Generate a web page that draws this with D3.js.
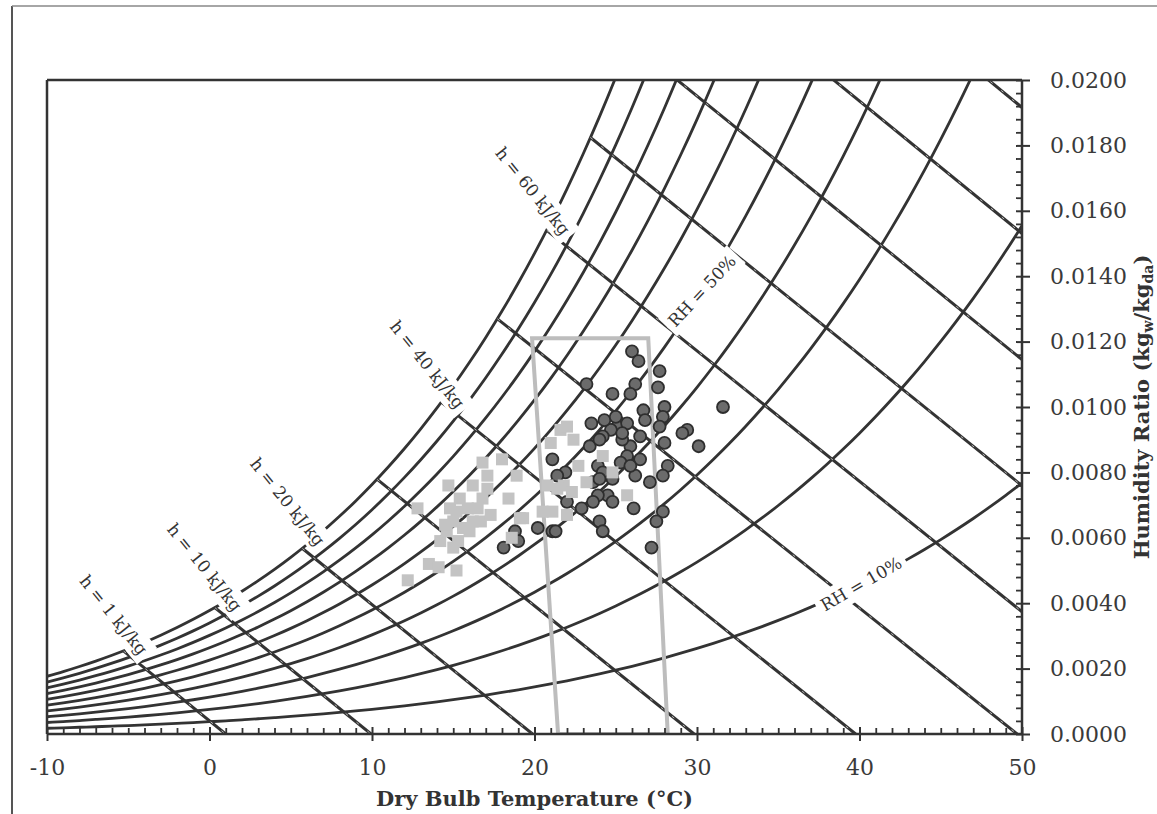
<!DOCTYPE html>
<html>
<head>
<meta charset="utf-8">
<script src="https://cdn.jsdelivr.net/npm/d3@7/dist/d3.min.js"></script>
<style>
  body { margin: 0; background: #fff; }
  svg { display: block; }
</style>
</head>
<body>
<div id="chart"></div>
<script>
// tablas de datos
const satTemps = d3.range(-10, 51); // °C
// presion de saturacion del agua (kPa) para cada grado de satTemps
const satPressure = [0.2865, 0.3100, 0.3351, 0.3619, 0.3906, 0.4215, 0.4545, 0.4898, 0.5275, 0.5679,
  0.6112, 0.6571, 0.7060, 0.7581, 0.8135, 0.8725, 0.9353, 1.0020, 1.0729, 1.1481,
  1.2280, 1.3128, 1.4026, 1.4979, 1.5987, 1.7055, 1.8185, 1.9380, 2.0643, 2.1978,
  2.3388, 2.4877, 2.6448, 2.8104, 2.9851, 3.1692, 3.3631, 3.5673, 3.7822, 4.0083,
  4.2460, 4.4959, 4.7585, 5.0343, 5.3239, 5.6278, 5.9466, 6.2810, 6.6315, 6.9987,
  7.3835, 7.7863, 8.2080, 8.6492, 9.1107, 9.5932, 10.0976, 10.6246, 11.1751, 11.7500, 12.3499];
const rhLevels = [0.1, 0.2, 0.3, 0.4, 0.5, 0.6, 0.7, 0.8, 0.9, 1.0];
const enthalpyLevels = [1, 10, 20, 30, 40, 50, 60, 70, 80, 90, 100]; // kJ/kg

const xTicks = [-10, 0, 10, 20, 30, 40, 50];
const yTicks = [0, 0.002, 0.004, 0.006, 0.008, 0.010, 0.012, 0.014, 0.016, 0.018, 0.020];

// zona de confort (temp, W)
const comfortZone = [[19.85, 0.0121], [27.0, 0.0121], [28.2, 0], [21.45, 0]];

// puntos grises claros (cuadrados)
const squareTemp = [14.7, 16.8, 18.0, 18.9, 18.4, 16.2, 17.1, 12.8, 19.1, 15.2, 15.6, 14.6, 14.2, 15.0, 16.0,
  16.7, 16.8, 17.1, 16.5, 15.9, 13.5, 14.1, 15.2, 12.2, 18.6, 21.6, 22.0, 21.0, 22.4, 20.8,
  22.0, 21.1, 24.2, 22.7, 23.2, 24.8, 21.8, 22.3, 25.7, 19.3, 15.0, 21.4, 14.5, 15.3, 16.2,
  17.3, 15.4, 14.8, 20.5];
const squareW = [0.0076, 0.0083, 0.0084, 0.0079, 0.0072, 0.0076, 0.0079, 0.0069, 0.0066, 0.0068, 0.0063, 0.0062, 0.0059, 0.0057, 0.0062,
  0.0065, 0.0072, 0.0075, 0.0069, 0.0069, 0.0052, 0.0051, 0.0050, 0.0047, 0.0060, 0.0093, 0.0094, 0.0089, 0.0090, 0.0076,
  0.0067, 0.0068, 0.0085, 0.0082, 0.0077, 0.0080, 0.0076, 0.0074, 0.0073, 0.0066, 0.0065, 0.0075, 0.0064, 0.0059, 0.0065,
  0.0067, 0.0072, 0.0069, 0.0068];

// puntos oscuros (circulos)
const circleTemp = [26.0, 26.4, 27.7, 23.2, 27.6, 24.8, 26.2, 25.9, 26.7, 28.0, 31.6, 23.5, 27.9, 27.7, 25.1,
  24.7, 24.2, 25.7, 29.4, 29.1, 26.5, 30.1, 28.0, 21.1, 23.4, 24.0, 25.9, 25.7, 25.3, 26.5,
  28.2, 27.9, 21.9, 21.4, 23.9, 24.2, 24.8, 26.2, 27.1, 23.6, 24.5, 23.9, 23.6, 26.1, 24.8,
  22.9, 27.9, 24.0, 24.2, 27.5, 20.2, 21.1, 27.2, 22.0, 18.1, 18.8, 19.0, 21.3, 25.4, 26.8,
  24.3, 25.0, 25.4, 25.9, 24.0];
const circleW = [0.0117, 0.0114, 0.0111, 0.0107, 0.0106, 0.0104, 0.0107, 0.0104, 0.0099, 0.0100, 0.0100, 0.0095, 0.0097, 0.0094, 0.0094,
  0.0093, 0.0091, 0.0095, 0.0093, 0.0092, 0.0091, 0.0088, 0.0089, 0.0084, 0.0088, 0.0090, 0.0088, 0.0085, 0.0083, 0.0084,
  0.0082, 0.0079, 0.0080, 0.0079, 0.0082, 0.0080, 0.0078, 0.0079, 0.0077, 0.0077, 0.0073, 0.0073, 0.0071, 0.0069, 0.0071,
  0.0069, 0.0068, 0.0065, 0.0062, 0.0065, 0.0063, 0.0062, 0.0057, 0.0071, 0.0057, 0.0062, 0.0059, 0.0062, 0.0090, 0.0096,
  0.0096, 0.0097, 0.0092, 0.0082, 0.0078];

// etiquetas de entalpia: [h, temp, W] del centro del texto
const hLabels = [[1, -5.9, 0.00364], [10, -0.3, 0.0051], [20, 4.8, 0.0071], [40, 13.4, 0.0113], [60, 19.9, 0.0166]];
// etiquetas de HR: [rh, temp sobre la curva, angulo]
const rhLabels = [[0.5, 30.3, -47], [0.1, 40.1, -30]];

const P_ATM = 101.325;
const width = 1157, height = 814;
const serif = "'DejaVu Serif', 'Liberation Serif', serif";
const ink = "#333";

function psat(t) {
  const i = Math.max(0, Math.min(satTemps.length - 2, Math.floor(t + 10)));
  const f = t + 10 - i;
  return satPressure[i] * (1 - f) + satPressure[i + 1] * f;
}
function humidity(t, rh) {
  const pw = rh * psat(t);
  return 0.622 * pw / (P_ATM - pw);
}
function enthalpyW(h, t) {
  return (h - 1.006 * t) / (2501 + 1.86 * t);
}

const x = d3.scaleLinear().domain([-10, 50]).range([47, 1022]);
const y = d3.scaleLinear().domain([0, 0.02]).range([734, 80]);

const svg = d3.select("#chart").append("svg")
  .attr("width", width)
  .attr("height", height);

// marco exterior de la figura
svg.append("line").attr("x1", 12).attr("x2", 12).attr("y1", 6).attr("y2", height)
  .attr("stroke", "#555").attr("stroke-width", 2);
svg.append("line").attr("x1", 12).attr("x2", width).attr("y1", 6).attr("y2", 6)
  .attr("stroke", "#888").attr("stroke-width", 1.5);

svg.append("clipPath").attr("id", "plot-clip")
  .append("rect")
  .attr("x", x(-10)).attr("y", y(0.02))
  .attr("width", x(50) - x(-10)).attr("height", y(0) - y(0.02));

const plot = svg.append("g").attr("clip-path", "url(#plot-clip)");

// curvas de humedad relativa
const line = d3.line().x(d => x(d[0])).y(d => y(d[1])).curve(d3.curveMonotoneX);
plot.selectAll(".rh")
  .data(rhLevels)
  .enter()
  .append("path")
  .attr("class", "rh")
  .attr("d", rh => line(satTemps.map(t => [t, humidity(t, rh)])))
  .attr("fill", "none")
  .attr("stroke", ink)
  .attr("stroke-width", 2.8);

// lineas de entalpia constante
function enthalpyPoints(h) {
  let t0 = -10;
  while (t0 < 50 && enthalpyW(h, t0) > humidity(t0, 1)) t0 += 0.02;
  const t1 = Math.min(h / 1.006, 50);
  return [[t0, enthalpyW(h, t0)], [t1, enthalpyW(h, t1)]];
}
const straight = d3.line().x(d => x(d[0])).y(d => y(d[1]));
plot.selectAll(".h-line")
  .data(enthalpyLevels)
  .enter()
  .append("path")
  .attr("class", "h-line")
  .attr("d", h => straight(enthalpyPoints(h)))
  .attr("stroke", ink)
  .attr("stroke-width", 3);
plot.selectAll(".h-dash")
  .data(enthalpyLevels)
  .enter()
  .append("path")
  .attr("class", "h-dash")
  .attr("d", h => straight(enthalpyPoints(h)))
  .attr("stroke", "#d8d8d8")
  .attr("stroke-width", 1)
  .attr("stroke-dasharray", "3 11")
  .attr("opacity", 0.8);

// zona de confort
plot.append("path")
  .attr("d", d3.line().x(d => x(d[0])).y(d => y(d[1]))(comfortZone) + "Z")
  .attr("fill", "none")
  .attr("stroke", "#bdbdbd")
  .attr("stroke-width", 4);

// puntos
plot.selectAll(".dark")
  .data(circleTemp.map((t, i) => [t, circleW[i]]))
  .enter()
  .append("circle")
  .attr("class", "dark")
  .attr("cx", d => x(d[0]))
  .attr("cy", d => y(d[1]))
  .attr("r", 6)
  .attr("fill", "#6b6b6b")
  .attr("stroke", "#2e2e2e")
  .attr("stroke-width", 1.8);

plot.selectAll(".light")
  .data(squareTemp.map((t, i) => [t, squareW[i]]))
  .enter()
  .append("rect")
  .attr("class", "light")
  .attr("x", d => x(d[0]) - 6)
  .attr("y", d => y(d[1]) - 6)
  .attr("width", 12)
  .attr("height", 12)
  .attr("fill", "#c3c3c3");

// etiquetas con fondo blanco
function addLabel(cx, cy, angle, text) {
  const g = svg.append("g").attr("transform", `translate(${cx},${cy}) rotate(${angle})`);
  const bg = g.append("rect").attr("fill", "#fff");
  const tx = g.append("text")
    .attr("text-anchor", "middle")
    .attr("dominant-baseline", "central")
    .attr("font-family", serif)
    .attr("font-size", 17)
    .attr("fill", ink)
    .text(text);
  const len = tx.node().getComputedTextLength();
  bg.attr("x", -len / 2 - 5).attr("y", -13).attr("width", len + 10).attr("height", 26);
}
hLabels.forEach(([h, t, w]) => addLabel(x(t), y(w), 51, `h = ${h} kJ/kg`));
rhLabels.forEach(([rh, t, a]) => addLabel(x(t), y(humidity(t, rh)), a, `RH = ${Math.round(rh * 100)}%`));

// marco del grafico
const frame = svg.append("g").attr("stroke", ink).attr("stroke-width", 2.5);
frame.append("line").attr("x1", x(-10)).attr("x2", x(-10)).attr("y1", y(0.02)).attr("y2", y(0));
frame.append("line").attr("x1", x(-10)).attr("x2", x(50)).attr("y1", y(0.02)).attr("y2", y(0.02));
frame.append("line").attr("x1", x(50)).attr("x2", x(50)).attr("y1", y(0.02)).attr("y2", y(0));
frame.append("line").attr("x1", x(-10)).attr("x2", x(50)).attr("y1", y(0)).attr("y2", y(0));

// eje x
const xMinor = svg.append("g").attr("transform", `translate(0,${y(0)})`)
  .call(d3.axisTop(x).tickValues(satTemps.filter(t => t % 10 !== 0)).tickSize(6).tickFormat(""));
xMinor.select(".domain").remove();
xMinor.selectAll(".tick line").attr("stroke", ink).attr("stroke-width", 1.8);

const xAxis = svg.append("g").attr("transform", `translate(0,${y(0)})`)
  .call(d3.axisBottom(x).tickValues(xTicks).tickSize(7).tickFormat(d => String(d)));
xAxis.select(".domain").remove();
xAxis.selectAll(".tick line").attr("y1", -7).attr("stroke", ink).attr("stroke-width", 2);
xAxis.selectAll(".tick text")
  .attr("y", 25)
  .attr("font-family", serif)
  .attr("font-size", 22)
  .attr("fill", "#3a3a3a");

// eje y (derecha)
const yMinor = svg.append("g").attr("transform", `translate(${x(50)},0)`)
  .call(d3.axisLeft(y).tickValues(d3.range(0, 51).map(i => i * 0.0004).filter((v, i) => i % 5 !== 0)).tickSize(6).tickFormat(""));
yMinor.select(".domain").remove();
yMinor.selectAll(".tick line").attr("stroke", ink).attr("stroke-width", 1.8);

const yAxis = svg.append("g").attr("transform", `translate(${x(50)},0)`)
  .call(d3.axisRight(y).tickValues(yTicks).tickSize(8).tickFormat(d3.format(".4f")));
yAxis.select(".domain").remove();
yAxis.selectAll(".tick line").attr("x1", -6).attr("stroke", ink).attr("stroke-width", 2);
yAxis.selectAll(".tick text")
  .attr("x", 28)
  .attr("font-family", serif)
  .attr("font-size", 22)
  .attr("fill", "#3a3a3a");

// titulos de ejes
svg.append("text")
  .attr("x", (x(-10) + x(50)) / 2)
  .attr("y", 806)
  .attr("text-anchor", "middle")
  .attr("font-family", serif)
  .attr("font-weight", "bold")
  .attr("font-size", 21)
  .attr("fill", ink)
  .text("Dry Bulb Temperature (°C)");

const yTitle = svg.append("text")
  .attr("transform", `translate(1149,${(y(0) + y(0.02)) / 2}) rotate(-90)`)
  .attr("text-anchor", "middle")
  .attr("font-family", serif)
  .attr("font-weight", "bold")
  .attr("font-size", 21)
  .attr("fill", ink);
yTitle.append("tspan").text("Humidity Ratio (kg");
yTitle.append("tspan").attr("font-size", 14).attr("dy", 4).text("w");
yTitle.append("tspan").attr("dy", -4).text("/kg");
yTitle.append("tspan").attr("font-size", 14).attr("dy", 4).text("da");
yTitle.append("tspan").attr("dy", -4).text(")");
</script>
</body>
</html>
